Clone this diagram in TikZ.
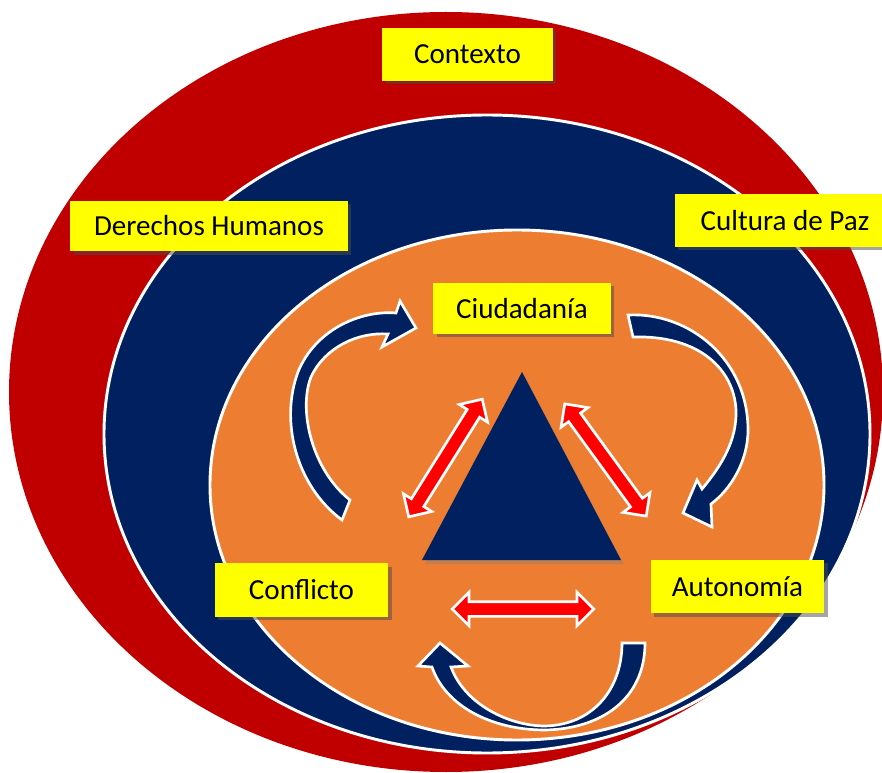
\documentclass[tikz,border=0pt]{standalone}
\usepackage{fontspec}
\setmainfont{Carlito}
\usetikzlibrary{shapes.arrows,shadows}

\definecolor{rojoctx}{HTML}{C00000}
\definecolor{azulddhh}{HTML}{002060}
\definecolor{naranjaint}{HTML}{ED7D31}
\definecolor{amarillo}{HTML}{FFFF00}
\definecolor{rojoflecha}{HTML}{FF0000}

\tikzset{every picture/.style={line width=0.75pt}}
\tikzset{
  etiqueta/.style={fill=amarillo, inner sep=0pt, font=\fontsize{21.8}{26}\selectfont,
    drop shadow={shadow xshift=2.5pt, shadow yshift=-2.5pt, opacity=0.5, fill=black!70}},
  flechadoble/.style={double arrow, fill=rojoflecha, draw=white, line width=2pt,
    inner sep=4.5pt, double arrow head extend=7pt},
  flechacurva/.style={fill=azulddhh, draw=white, line width=2pt, line join=miter},
  anillo/.style={draw=white, line width=2.2pt},
}

\begin{document}
\begin{tikzpicture}[x=0.75pt,y=0.75pt,yscale=-1,xscale=1]
        \useasboundingbox (0,0) rectangle (882,773);

        %Shape: Ellipse [id:contexto]
        \fill [rojoctx] (446,392) ellipse [x radius=437, y radius=380];
        %Shape: Ellipse [id:derechos]
        \draw [anillo, fill=azulddhh] (487,434) ellipse [x radius=383, y radius=319];
        %Shape: Ellipse [id:ciudadania]
        \draw [anillo, fill=naranjaint] (517,485) ellipse [x radius=307, y radius=255];

        %Shape: Triangle [id:triangulo]
        \fill [azulddhh, drop shadow={shadow xshift=2pt, shadow yshift=-3pt, opacity=0.4}] (522,372) -- (621,560) -- (422,560) -- cycle;

        %Curve Lines [id:curva_izq]
        \draw [flechacurva] (342,520) .. controls (295,485) and (280,420) .. (298,372) .. controls (315,330) and (360,310) .. (396,313) -- (400,301) -- (416,328) -- (382,347) -- (388,334) .. controls (358,332) and (325,347) .. (311,377) .. controls (298,410) and (312,470) .. (350,500) -- cycle ;
        %Curve Lines [id:curva_der]
        \draw [flechacurva] (628,315) .. controls (690,312) and (748,360) .. (748,430) .. controls (748,462) and (730,490) .. (711,504) -- (712,527) -- (683,513) -- (697,480) -- (702,489) .. controls (722,465) and (737,440) .. (736,410) .. controls (734,370) and (700,335) .. (633,337) -- cycle ;
        %Curve Lines [id:curva_inf]
        \draw [flechacurva] (645,643) .. controls (645,700) and (600,729) .. (545,730) .. controls (490,730) and (445,705) .. (432,667) -- (418,666) -- (440,643) -- (468,666) -- (451,667) .. controls (465,705) and (510,726) .. (545,726) .. controls (592,725) and (622,690) .. (622,643) -- cycle ;

        %Double Arrows
        \node [flechadoble, minimum height=104pt, rotate=58] (relIzq) at (445.5,458) {};
        \node [flechadoble, minimum height=104pt, rotate=-54] (relDer) at (605.5,460) {};
        \node [flechadoble, minimum height=106pt] (relInf) at (523,609) {};

        %Text Nodes
        \node [etiqueta, minimum width=128pt, minimum height=40pt] (contexto) at (467.5,54.5) {Contexto};
        \node [etiqueta, minimum width=208pt, minimum height=38pt] (ddhh) at (209,226) {Derechos Humanos};
        \node [etiqueta, minimum width=165pt, minimum height=40pt] (paz) at (785,220.5) {Cultura de Paz};
        \node [etiqueta, minimum width=133pt, minimum height=38pt] (ciudad) at (522,308.5) {Ciudadanía};
        \node [etiqueta, minimum width=130pt, minimum height=40pt] (conflicto) at (301.5,590) {Conflicto};
        \node [etiqueta, minimum width=130pt, minimum height=40pt] (autonomia) at (737.5,586.5) {Autonomía};

\end{tikzpicture}
\end{document}
